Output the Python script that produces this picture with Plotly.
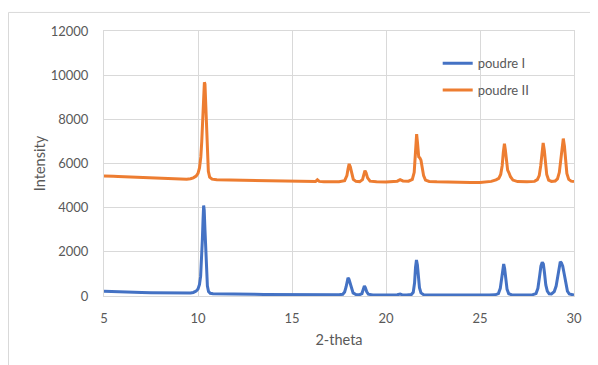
import plotly.graph_objects as go

# ---- data ----
x_poudre1 = [5.0, 5.25, 5.5, 5.75, 6.0, 6.5, 7.0, 7.5, 8.0, 8.5, 9.0, 9.4, 9.6, 9.75, 9.9,
             10.0, 10.08, 10.14, 10.19, 10.23, 10.27, 10.30, 10.33, 10.37, 10.41, 10.45, 10.5,
             10.56, 10.65, 10.8, 11.0, 11.5, 12.0, 12.5, 13.0, 13.5, 14.0, 14.5, 15.0, 15.5,
             16.0, 16.5, 17.0, 17.5, 17.7, 17.8, 17.88, 17.94, 17.98, 18.03, 18.09, 18.16,
             18.25, 18.4, 18.6, 18.72, 18.79, 18.85, 18.9, 18.97, 19.06, 19.3, 19.8, 20.3,
             20.6, 20.75, 20.85, 21.1, 21.35, 21.45, 21.52, 21.57, 21.62, 21.67, 21.72, 21.78,
             21.86, 22.0, 22.5, 23.0, 23.5, 24.0, 24.5, 25.0, 25.5, 25.8, 25.98, 26.08, 26.15,
             26.21, 26.26, 26.31, 26.37, 26.44, 26.53, 26.7, 27.0, 27.5, 27.8, 27.98, 28.08,
             28.17, 28.24, 28.31, 28.37, 28.43, 28.5, 28.58, 28.68, 28.8, 28.95, 29.05, 29.13,
             29.2, 29.27, 29.33, 29.4, 29.48, 29.56, 29.65, 29.75, 29.88, 30.0]
y_poudre1 = [210, 200, 190, 185, 180, 170, 160, 150, 140, 130, 125, 125, 135, 160, 220,
             320, 520, 900, 1600, 2500, 3500, 4100, 3900, 3000, 1900, 1000, 450,
             200, 120, 100, 95, 90, 85, 80, 75, 70, 65, 60, 55, 55,
             50, 50, 50, 55, 80, 180, 420, 680, 820, 760, 560, 320,
             140, 70, 60, 110, 280, 460, 380, 200, 80, 50, 45, 45,
             55, 90, 60, 50, 70, 170, 600, 1300, 1630, 1400, 850, 380,
             140, 60, 45, 40, 40, 40, 40, 40, 45, 55, 110, 350, 800,
             1300, 1450, 1250, 750, 300, 100, 50, 45, 50, 60, 110, 350,
             900, 1350, 1530, 1450, 1050, 500, 220, 100, 90, 200, 450, 900,
             1350, 1550, 1500, 1350, 1000, 550, 220, 90, 50, 45]

x_poudre2 = [5.0, 5.25, 5.5, 5.75, 6.0, 6.5, 7.0, 7.5, 8.0, 8.5, 9.0, 9.4, 9.6, 9.75, 9.9,
             10.0, 10.08, 10.15, 10.2, 10.25, 10.3, 10.34, 10.37, 10.41, 10.45, 10.5, 10.55,
             10.62, 10.75, 11.0, 11.5, 12.0, 12.5, 13.0, 13.5, 14.0, 14.5, 15.0, 15.5, 16.0,
             16.25, 16.35, 16.45, 16.7, 17.0, 17.5, 17.8, 17.92, 17.98, 18.04, 18.1, 18.17,
             18.26, 18.4, 18.6, 18.75, 18.82, 18.88, 18.94, 19.02, 19.15, 19.5, 20.0, 20.4,
             20.6, 20.75, 20.9, 21.2, 21.4, 21.5, 21.57, 21.63, 21.68, 21.74, 21.8, 21.86,
             21.93, 22.0, 22.1, 22.3, 22.7, 23.0, 23.5, 24.0, 24.5, 25.0, 25.3, 25.6, 25.85,
             26.0, 26.1, 26.18, 26.24, 26.3, 26.35, 26.41, 26.47, 26.54, 26.62, 26.75, 27.0,
             27.5, 27.9, 28.05, 28.15, 28.23, 28.3, 28.36, 28.42, 28.48, 28.55, 28.65, 28.8,
             29.0, 29.12, 29.22, 29.3, 29.37, 29.43, 29.49, 29.55, 29.62, 29.72, 29.85, 30.0]
y_poudre2 = [5430, 5440, 5420, 5410, 5400, 5380, 5360, 5340, 5320, 5300, 5290, 5290, 5310, 5350, 5430,
             5550, 5800, 6300, 7000, 8000, 9000, 9680, 9600, 8700, 7500, 6300, 5650,
             5380, 5290, 5260, 5250, 5240, 5230, 5220, 5210, 5200, 5190, 5180, 5170, 5170,
             5180, 5260, 5190, 5170, 5165, 5170, 5220, 5450, 5750, 5980, 5850, 5550,
             5280, 5190, 5180, 5270, 5500, 5680, 5580, 5350, 5200, 5170, 5165, 5170,
             5200, 5270, 5210, 5200, 5280, 5600, 6500, 7330, 6900, 6300, 6250, 6150,
             5800, 5450, 5250, 5190, 5170, 5160, 5150, 5150, 5140, 5140, 5150, 5190, 5260,
             5330, 5500, 5900, 6500, 6900, 6600, 6000, 5700, 5580, 5400, 5250, 5180,
             5170, 5190, 5270, 5450, 5900, 6500, 6930, 6600, 6000, 5500, 5250, 5190,
             5210, 5300, 5600, 6200, 6800, 7130, 6800, 6100, 5550, 5280, 5200, 5180]

x_ticks = [5, 10, 15, 20, 25, 30]
y_ticks = [0, 2000, 4000, 6000, 8000, 10000, 12000]

BLUE = "#4472C4"
ORANGE = "#ED7D31"
GRID = "#d9d9d9"
TXT = "#595959"
FONT = "Lato"

fig = go.Figure()
fig.add_trace(go.Scatter(x=x_poudre1, y=y_poudre1, mode="lines", name="poudre I",
                         legendgroup="a", line=dict(color=BLUE, width=3)))
fig.add_trace(go.Scatter(x=x_poudre2, y=y_poudre2, mode="lines", name="poudre II",
                         legendgroup="b", line=dict(color=ORANGE, width=3)))

# the page body adds an 8 px offset, so the figure is 8 px smaller than the window
fig.update_layout(
    width=590, height=357,
    margin=dict(l=96, r=24, t=23, b=69),
    paper_bgcolor="white", plot_bgcolor="white",
    font=dict(family=FONT, size=13, color=TXT),
    showlegend=True,
    legend=dict(x=0.71, y=0.935, xanchor="left", yanchor="top",
                bgcolor="rgba(0,0,0,0)", tracegroupgap=7,
                font=dict(family=FONT, size=13, color=TXT)),
    shapes=[dict(type="rect", xref="paper", yref="paper",
                 x0=-0.2032, x1=1.2, y0=-0.4, y1=1.07,
                 line=dict(color=GRID, width=1), fillcolor="rgba(0,0,0,0)", layer="below")],
)
fig.update_xaxes(range=[5, 30], tickvals=x_ticks, ticktext=[str(v) for v in x_ticks],
                 showgrid=True, gridcolor=GRID, gridwidth=1,
                 showline=True, linecolor=GRID, mirror=True, zeroline=False,
                 ticks="outside", ticklen=10, tickcolor="rgba(0,0,0,0)",
                 tickfont=dict(family=FONT, size=13, color=TXT),
                 title=dict(text="2-theta", standoff=10, font=dict(family=FONT, size=14.5, color=TXT)))
fig.update_yaxes(range=[0, 12000], tickvals=y_ticks, ticktext=[str(v) for v in y_ticks],
                 showgrid=True, gridcolor=GRID, gridwidth=1,
                 showline=True, linecolor=GRID, mirror=True, zeroline=False,
                 ticks="outside", ticklen=12, tickcolor="rgba(0,0,0,0)",
                 tickfont=dict(family=FONT, size=13, color=TXT),
                 title=dict(text="Intensity", standoff=1, font=dict(family=FONT, size=14.5, color=TXT)))

fig.write_html("out.html")
